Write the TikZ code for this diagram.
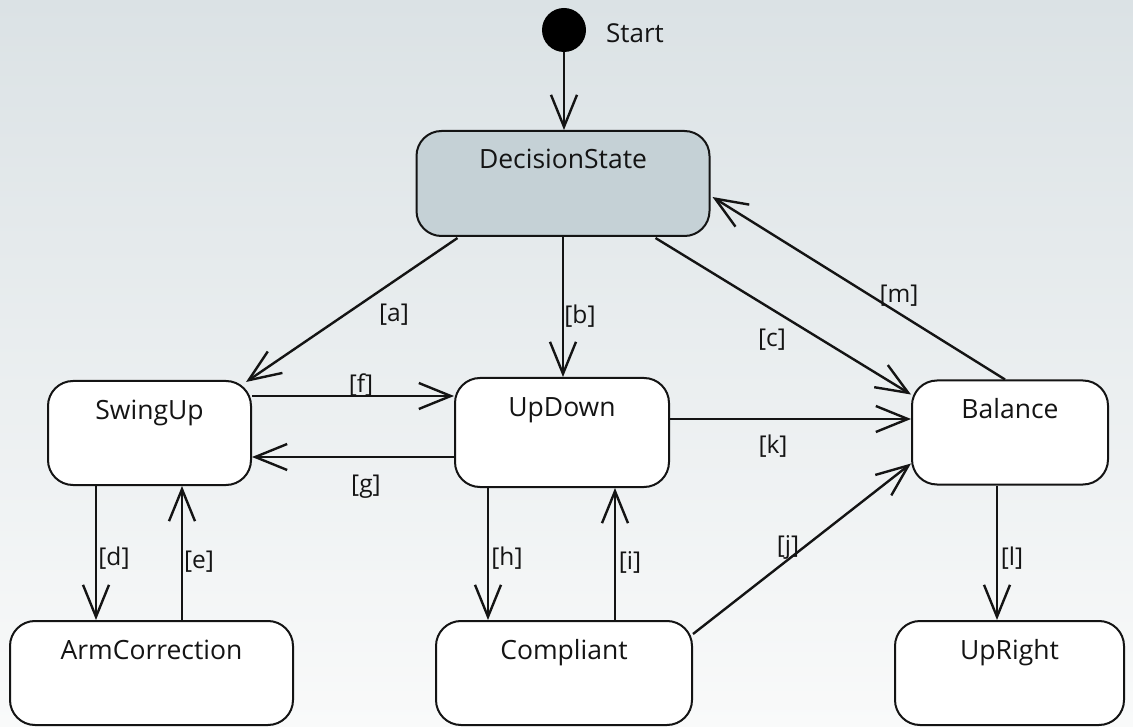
\documentclass[tikz,border=0pt]{standalone}
\usepackage{fontspec}
\setmainfont{Open Sans}
\usetikzlibrary{arrows.meta,calc}
\definecolor{bgtop}{RGB}{219,226,229}
\definecolor{bgbot}{RGB}{249,250,250}
\definecolor{dsfill}{RGB}{197,209,214}
\definecolor{ink}{RGB}{20,20,20}
\tikzset{
  statebox/.style={draw=ink, line width=2pt, rounded corners=25pt, fill=white,
    inner sep=0pt, text height=38pt, text depth=#1, align=center,
    font=\fontsize{26.5}{30}\selectfont, text=ink},
  statebox/.default=66pt,
  trans/.style={draw=ink, line width=2.4pt, -{Straight Barb[length=32pt,width=26pt,line width=2.4pt]}},
  lbl/.style={inner sep=0pt, font=\fontsize{24.5}{28}\selectfont, text=ink},
}
\begin{document}
\begin{tikzpicture}[x=1pt,y=-1pt]
\useasboundingbox (0,0) rectangle (1133,727);
\shade[top color=bgtop, bottom color=bgbot] (0,0) rectangle (1133,727);

% initial state
\node[circle, fill=black, minimum size=44pt, inner sep=0pt] (start) at (564,30) {};
\node[lbl, anchor=west, font=\fontsize{26}{30}\selectfont] (startlbl) at (606,33) {Start};

% states
\node[statebox=67pt, fill=dsfill, minimum width=293pt] (DS) at (563,183.5) {DecisionState};
\node[statebox, minimum width=203pt] (SU) at (149.5,433) {SwingUp};
\node[statebox=71pt, minimum width=214pt] (UD) at (562,432.5) {UpDown};
\node[statebox=66pt, minimum width=196pt] (BA) at (1010,432.5) {Balance};
\node[statebox, minimum width=283pt] (AC) at (151.5,673) {ArmCorrection};
\node[statebox, minimum width=256pt] (CO) at (564,673) {Compliant};
\node[statebox, minimum width=229pt] (UR) at (1009.5,673) {UpRight};

% transitions
\draw[trans] (start.south) -- (start.south |- DS.north);
\draw[trans] ($(DS.south west)+(42,1)$) -- ($(SU.north east)+(-6,2)$);
\draw[trans] (DS.south) -- (DS.south |- UD.north);
\draw[trans] ($(DS.south west)+(240,1)$) -- ($(BA.north west)+(0,15)$);
\draw[trans] ($(BA.north west)+(94,0)$) -- ($(DS.north east)+(2,67)$);
\coordinate (fstart) at ($(SU.north east)+(0,16)$);
\draw[trans] (fstart) -- (fstart -| UD.west);
\coordinate (gstart) at ($(UD.south west)+(0,-31)$);
\draw[trans] (gstart) -- (gstart -| SU.east);
\coordinate (kstart) at ($(UD.north east)+(0,42)$);
\draw[trans] (kstart) -- (kstart -| BA.west);
\coordinate (dstart) at ($(SU.south west)+(49,0)$);
\draw[trans] (dstart) -- (dstart |- AC.north);
\coordinate (estart) at ($(AC.north west)+(173,0)$);
\draw[trans] (estart) -- (estart |- SU.south);
\coordinate (hstart) at ($(UD.south west)+(34,0)$);
\draw[trans] (hstart) -- (hstart |- CO.north);
\coordinate (istart) at ($(CO.north west)+(180,0)$);
\draw[trans] (istart) -- (istart |- UD.south);
\draw[trans] ($(CO.north east)+(0,14)$) -- ($(BA.south west)+(0,-22)$);
\coordinate (lstart) at ($(BA.south west)+(86,0)$);
\draw[trans] (lstart) -- (lstart |- UR.north);

% labels
\node[lbl] (la) at (394,315) {[a]};
\node[lbl] (lb) at (580,316) {[b]};
\node[lbl] (lc) at (772,340) {[c]};
\node[lbl] (lm) at (899,296) {[m]};
\node[lbl] (lf) at (361,385) {[f]};
\node[lbl] (lg) at (366,487) {[g]};
\node[lbl] (lk) at (773,446) {[k]};
\node[lbl] (ld) at (114,558) {[d]};
\node[lbl] (le) at (199,562) {[e]};
\node[lbl] (lh) at (507,558) {[h]};
\node[lbl] (li) at (630,562) {[i]};
\node[lbl] (lj) at (788,547) {[j]};
\node[lbl] (ll) at (1012,558) {[l]};
\end{tikzpicture}
\end{document}
